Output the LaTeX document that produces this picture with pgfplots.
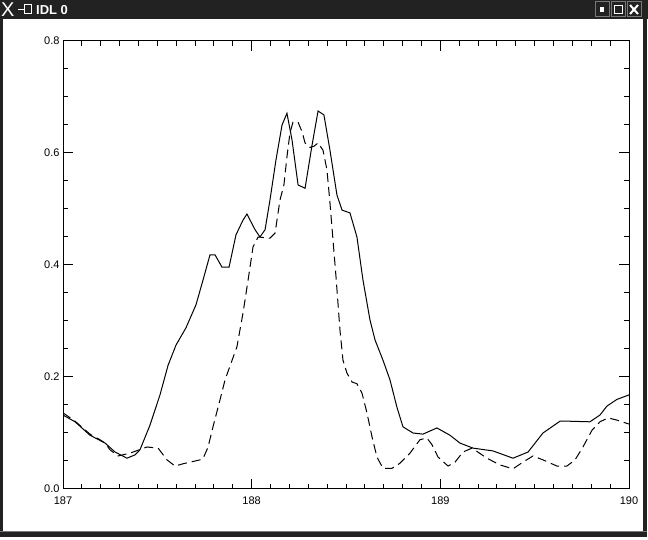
\documentclass[border=0pt]{standalone}
\usepackage{pgfplots}
\pgfplotsset{compat=1.18}
\usepackage{fontspec}
\setmainfont{Liberation Sans}
\definecolor{winbar}{RGB}{34,34,34}
\definecolor{btngray}{RGB}{120,120,120}
\begin{document}
\begin{tikzpicture}[x=1pt,y=1pt]
\useasboundingbox (0,0) rectangle (648,540);
\fill[white] (0,0) rectangle (648,540);
% window chrome
\fill[winbar] (0,521) rectangle (648,540);
\fill[winbar] (0,3) rectangle (3,521);
\fill[winbar] (643,3) rectangle (647,521);
\fill[winbar] (0,3) rectangle (647,8);
\draw[btngray,line width=0.6pt] (0,8.5) -- (647,8.5);
\node[anchor=west,text=white,inner sep=0pt,font=\fontsize{20}{20}\selectfont] at (1,530) {X};
\draw[white,line width=1.2pt] (18,530.5) -- (24,530.5);
\draw[white,line width=1pt] (24,526) rectangle (31,535);
\node[anchor=west,text=white,inner sep=0pt,font=\bfseries\fontsize{13}{13}\selectfont] at (36,529.5) {IDL 0};
\foreach \bx in {595,611,627}{
  \draw[btngray,line width=1pt] (\bx,523) rectangle (\bx+14,538);
}
\fill[white] (600,528) rectangle (604,533);
\draw[white,line width=1.5pt] (614.5,526.5) rectangle (622.5,534.5);
\draw[white,line width=2pt] (630,526) -- (638,535) (630,535) -- (638,526);
\begin{axis}[
  at={(63pt,51pt)}, anchor=south west,
  width=566pt, height=448pt, scale only axis,
  xmin=187, xmax=190, ymin=0, ymax=0.8,
  xtick={187,188,189,190}, ytick={0,0.2,0.4,0.6,0.8},
  minor x tick num=9, minor y tick num=3,
  major tick length=10pt, minor tick length=5pt,
  axis line style={line width=1pt},
  tick style={line width=1pt,black},
  tick align=inside,
  xticklabel style={yshift=-4pt,/pgf/number format/.cd,fixed,precision=0},
  yticklabel style={/pgf/number format/.cd,fixed,fixed zerofill,precision=1},
  /pgf/number format/assume math mode=true,
  tick label style={font=\fontsize{11}{13}\selectfont},
  scaled ticks=false,
  clip=true,
]
\addplot[black,line width=1pt] coordinates {
(187.000,0.132)(187.064,0.120)(187.143,0.096)(187.223,0.082)(187.276,0.066)
(187.339,0.055)(187.382,0.061)(187.408,0.070)(187.461,0.114)(187.514,0.168)
(187.557,0.221)(187.599,0.257)(187.652,0.288)(187.705,0.329)(187.742,0.373)
(187.779,0.418)(187.806,0.418)(187.843,0.396)(187.880,0.396)(187.917,0.454)
(187.954,0.480)(187.975,0.491)(188.018,0.463)(188.044,0.450)(188.071,0.463)
(188.097,0.516)(188.129,0.588)(188.161,0.650)(188.187,0.671)(188.214,0.623)
(188.246,0.543)(188.283,0.537)(188.320,0.614)(188.352,0.675)(188.383,0.668)
(188.415,0.605)(188.452,0.525)(188.479,0.498)(188.521,0.493)(188.558,0.450)
(188.590,0.373)(188.627,0.302)(188.654,0.266)(188.696,0.230)(188.733,0.195)
(188.770,0.146)(188.802,0.111)(188.855,0.100)(188.908,0.098)(188.982,0.109)
(189.051,0.096)(189.104,0.082)(189.173,0.073)(189.279,0.068)(189.385,0.055)
(189.465,0.066)(189.544,0.100)(189.634,0.121)(189.687,0.121)(189.793,0.120)
(189.846,0.132)(189.883,0.148)(189.936,0.160)(190.000,0.168)
};
\addplot[black,line width=1pt,dash pattern=on 9pt off 5pt] coordinates {
(187.000,0.136)(187.064,0.121)(187.143,0.098)(187.196,0.088)(187.223,0.082)
(187.249,0.070)(187.292,0.059)(187.355,0.064)(187.445,0.075)(187.504,0.073)
(187.551,0.052)(187.594,0.041)(187.636,0.045)(187.726,0.052)(187.742,0.054)
(187.769,0.075)(187.795,0.111)(187.832,0.159)(187.859,0.195)(187.922,0.254)
(187.954,0.314)(187.981,0.373)(188.007,0.432)(188.034,0.450)(188.097,0.448)
(188.124,0.457)(188.150,0.516)(188.171,0.543)(188.187,0.593)(188.203,0.636)
(188.219,0.655)(188.246,0.655)(188.267,0.638)(188.283,0.618)(188.309,0.610)
(188.330,0.612)(188.352,0.618)(188.378,0.605)(188.399,0.570)(188.415,0.511)
(188.431,0.445)(188.447,0.379)(188.468,0.284)(188.484,0.230)(188.505,0.207)
(188.532,0.191)(188.558,0.188)(188.585,0.171)(188.611,0.136)(188.638,0.093)
(188.664,0.057)(188.696,0.037)(188.744,0.037)(188.786,0.046)(188.839,0.064)
(188.892,0.088)(188.929,0.091)(188.956,0.079)(188.988,0.057)(189.041,0.041)
(189.078,0.048)(189.120,0.066)(189.168,0.073)(189.247,0.055)(189.316,0.043)
(189.385,0.036)(189.438,0.048)(189.491,0.059)(189.544,0.052)(189.618,0.041)
(189.671,0.041)(189.714,0.052)(189.756,0.075)(189.804,0.105)(189.846,0.120)
(189.889,0.127)(189.936,0.123)(189.963,0.120)(190.000,0.116)
};
\end{axis}
\end{tikzpicture}
\end{document}
